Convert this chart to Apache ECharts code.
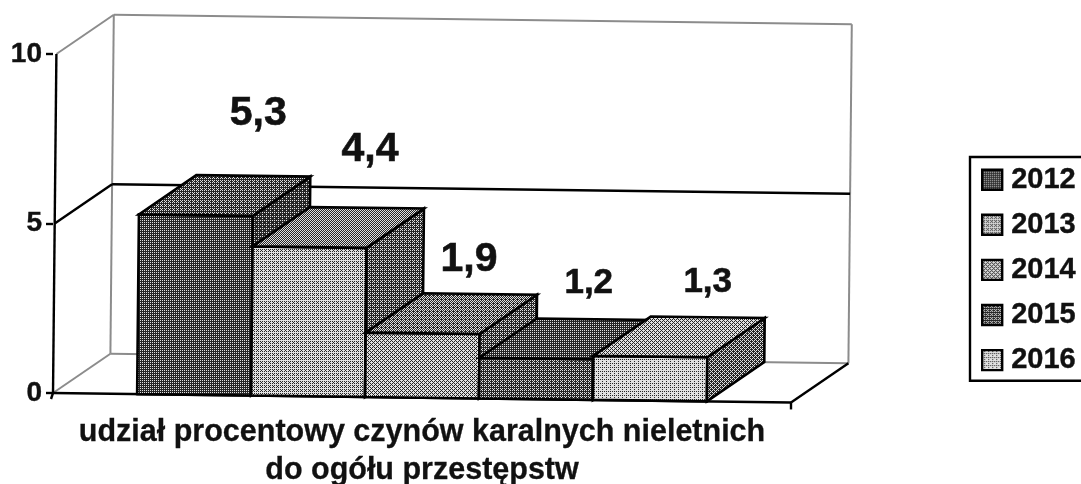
<!DOCTYPE html>
<html>
  <head>
    <meta charset="utf-8" />
    <title>Udział procentowy czynów karalnych nieletnich</title>
    <script src="https://cdnjs.cloudflare.com/ajax/libs/echarts/6.0.0/echarts.min.js"></script>
    <style>
      html, body { width: 100%; height: 100%; margin: 0; padding: 0; overflow: hidden; background: #fff; }
      #main { width: 1081px; height: 484px; }
    </style>
  </head>
  <body>
    <div id="main"></div>
    <script type="text/javascript">
      var years = ['2012', '2013', '2014', '2015', '2016'];
      var shares = [5.3, 4.4, 1.9, 1.2, 1.3];
      var categories = ['udział procentowy czynów karalnych nieletnich\ndo ogółu przestępstw'];
      var yTicks = [0, 5, 10];

      // grey level of each face, 0 black .. 1 white
      var faces = [
        { front: 0.25, top: 0.30, side: 0.20 },
        { front: 0.70, top: 0.50, side: 0.32 },
        { front: 0.64, top: 0.46, side: 0.32 },
        { front: 0.30, top: 0.22, side: 0.30 },
        { front: 0.84, top: 0.60, side: 0.38 }
      ];
      // the labels in the scan are not all the same size or distance above the bar
      var labelLook = [
        { size: 41, lift: 62, shift: 5 },
        { size: 41, lift: 58, shift: 3 },
        { size: 41, lift: 34, shift: -11 },
        { size: 35, lift: 36, shift: -5 },
        { size: 35, lift: 35, shift: 0 }
      ];

      var DEPTH_X = 57, DEPTH_Y = -40;
      var TILT_X = 0.01, TILT_Y = 0.0128; // the page was scanned a bit crooked
      var BAR_SHARE = 0.1544;

      // ordered dither so the fills look like the printed halftone
      var bayer = [0, 8, 2, 10, 12, 4, 14, 6, 3, 11, 1, 9, 15, 7, 13, 5];
      var patterns = {};
      function halftone(level) {
        if (patterns[level]) return patterns[level];
        var c = document.createElement('canvas');
        c.width = c.height = 4;
        var ctx = c.getContext('2d');
        for (var i = 0; i < 16; i++) {
          var on = (bayer[i] + 0.5) / 16 < level;
          ctx.fillStyle = on ? '#e0e0e0' : '#262626';
          ctx.fillRect(i % 4, Math.floor(i / 4), 1, 1);
        }
        patterns[level] = { image: c, repeat: 'repeat' };
        return patterns[level];
      }

      // screen point for x along the band, value v and depth d (0 front, 1 back)
      function projector(api) {
        var base = api.coord([0, 0]);
        var band = api.size([1, 0])[0];
        var ox = base[0] - band / 2;
        var oy = base[1];
        return {
          band: band,
          ox: ox,
          at: function (x, v, d) {
            var px = ox + x + d * DEPTH_X;
            var py = api.coord([0, v])[1] + d * DEPTH_Y;
            return [px + TILT_X * (oy - py), py + TILT_Y * (px - ox)];
          }
        };
      }

      function line(a, b, color, width) {
        return {
          type: 'line',
          shape: { x1: a[0], y1: a[1], x2: b[0], y2: b[1] },
          style: { stroke: color, lineWidth: width }
        };
      }

      function poly(points, fill) {
        return {
          type: 'polygon',
          shape: { points: points },
          style: { fill: fill, stroke: '#000', lineWidth: 2.6, lineJoin: 'miter' }
        };
      }

      function renderFrame(params, api) {
        var p = projector(api);
        var w = p.band;
        var wall = '#8c8c8c';
        return {
          type: 'group',
          children: [
            line(p.at(0, 10, 1), p.at(w, 10, 1), wall, 2),
            line(p.at(0, 0, 1), p.at(w, 0, 1), wall, 2),
            line(p.at(0, 0, 1), p.at(0, 10, 1), wall, 2),
            line(p.at(w, 0, 1), p.at(w, 10, 1), wall, 2),
            line(p.at(0, 10, 0), p.at(0, 10, 1), wall, 2),
            line(p.at(0, 0, 0), p.at(0, 0, 1), wall, 2),
            line(p.at(0, 5, 0), p.at(0, 5, 1), '#000', 2.4),
            line(p.at(0, 5, 1), p.at(w, 5, 1), '#000', 2.4),
            line(p.at(w, 0, 0), p.at(w, 0, 1), '#000', 2.4),
            line(p.at(0, 0, 0), p.at(0, 10, 0), '#000', 2.4),
            line(p.at(0, 0, 0), p.at(w, 0, 0), '#000', 2.4),
            line(p.at(0, 0, 0), [p.at(0, 0, 0)[0] - 2, p.at(0, 0, 0)[1] + 6], '#000', 2.4),
            line(p.at(w, 0, 0), [p.at(w, 0, 0)[0], p.at(w, 0, 0)[1] + 7], '#000', 2.4)
          ]
        };
      }

      function renderBar(index) {
        return function (params, api) {
          var p = projector(api);
          var v = api.value(1);
          var bw = p.band * BAR_SHARE;
          var x0 = p.band / 2 + (index - years.length / 2) * bw;
          var x1 = x0 + bw;
          var look = labelLook[index];
          var spot = p.at((x0 + x1) / 2, v, 1);
          return {
            type: 'group',
            children: [
              poly([p.at(x0, 0, 0), p.at(x1, 0, 0), p.at(x1, v, 0), p.at(x0, v, 0)], halftone(faces[index].front)),
              poly([p.at(x1, 0, 0), p.at(x1, 0, 1), p.at(x1, v, 1), p.at(x1, v, 0)], halftone(faces[index].side)),
              poly([p.at(x0, v, 0), p.at(x1, v, 0), p.at(x1, v, 1), p.at(x0, v, 1)], halftone(faces[index].top)),
              {
                type: 'text',
                style: {
                  text: String(v).replace('.', ','),
                  x: spot[0] + look.shift,
                  y: spot[1] - look.lift,
                  fill: '#111',
                  stroke: '#111',
                  lineWidth: 0.6,
                  align: 'center',
                  verticalAlign: 'middle',
                  font: 'bold ' + look.size + 'px "Liberation Sans", Arial, sans-serif'
                }
              }
            ]
          };
        };
      }

      var series = [{
        name: 'frame',
        type: 'custom',
        silent: true,
        renderItem: renderFrame,
        encode: { x: 0, y: 1 },
        data: [[0, 0]]
      }];
      years.forEach(function (year, i) {
        series.push({
          name: year,
          type: 'custom',
          renderItem: renderBar(i),
          encode: { x: 0, y: 1 },
          itemStyle: { color: halftone(faces[i].front) },
          data: [[0, shares[i]]]
        });
      });

      var chartDom = document.getElementById('main');
      var myChart = echarts.init(chartDom, null, { renderer: 'canvas' });
      var font = '"Liberation Sans", Arial, sans-serif';
      myChart.setOption({
        animation: false,
        backgroundColor: '#fff',
        grid: { left: 53, top: 54, width: 738, height: 339, outerBoundsMode: 'none' },
        legend: {
          data: years,
          orient: 'vertical',
          left: 970,
          top: 157,
          padding: [8, 40, 6, 11],
          itemWidth: 20,
          itemHeight: 20,
          itemGap: 15.7,
          selectedMode: false,
          icon: 'rect',
          borderColor: '#000',
          borderWidth: 2.4,
          itemStyle: { borderColor: '#000', borderWidth: 2.4 },
          textStyle: {
            color: '#111',
            fontSize: 29,
            fontWeight: 'bold',
            fontFamily: font,
            textBorderColor: '#111',
            textBorderWidth: 0.4,
            padding: [0, 0, 0, 4]
          }
        },
        xAxis: {
          type: 'category',
          data: categories,
          axisLine: { show: false },
          axisTick: { show: false },
          splitLine: { show: false },
          axisLabel: {
            margin: 21,
            color: '#111',
            fontSize: 30.5,
            fontWeight: 'bold',
            fontFamily: font,
            textBorderColor: '#111',
            textBorderWidth: 0.3,
            lineHeight: 38,
            align: 'center'
          }
        },
        yAxis: {
          type: 'value',
          min: yTicks[0],
          max: yTicks[yTicks.length - 1],
          interval: yTicks[1] - yTicks[0],
          axisLine: { show: false },
          axisTick: { show: true, length: 7, lineStyle: { color: '#000', width: 2.4 } },
          splitLine: { show: false },
          axisLabel: {
            margin: 11,
            color: '#111',
            fontSize: 28,
            fontWeight: 'bold',
            fontFamily: font,
            textBorderColor: '#111',
            textBorderWidth: 0.4
          }
        },
        series: series
      });
    </script>
  </body>
</html>
